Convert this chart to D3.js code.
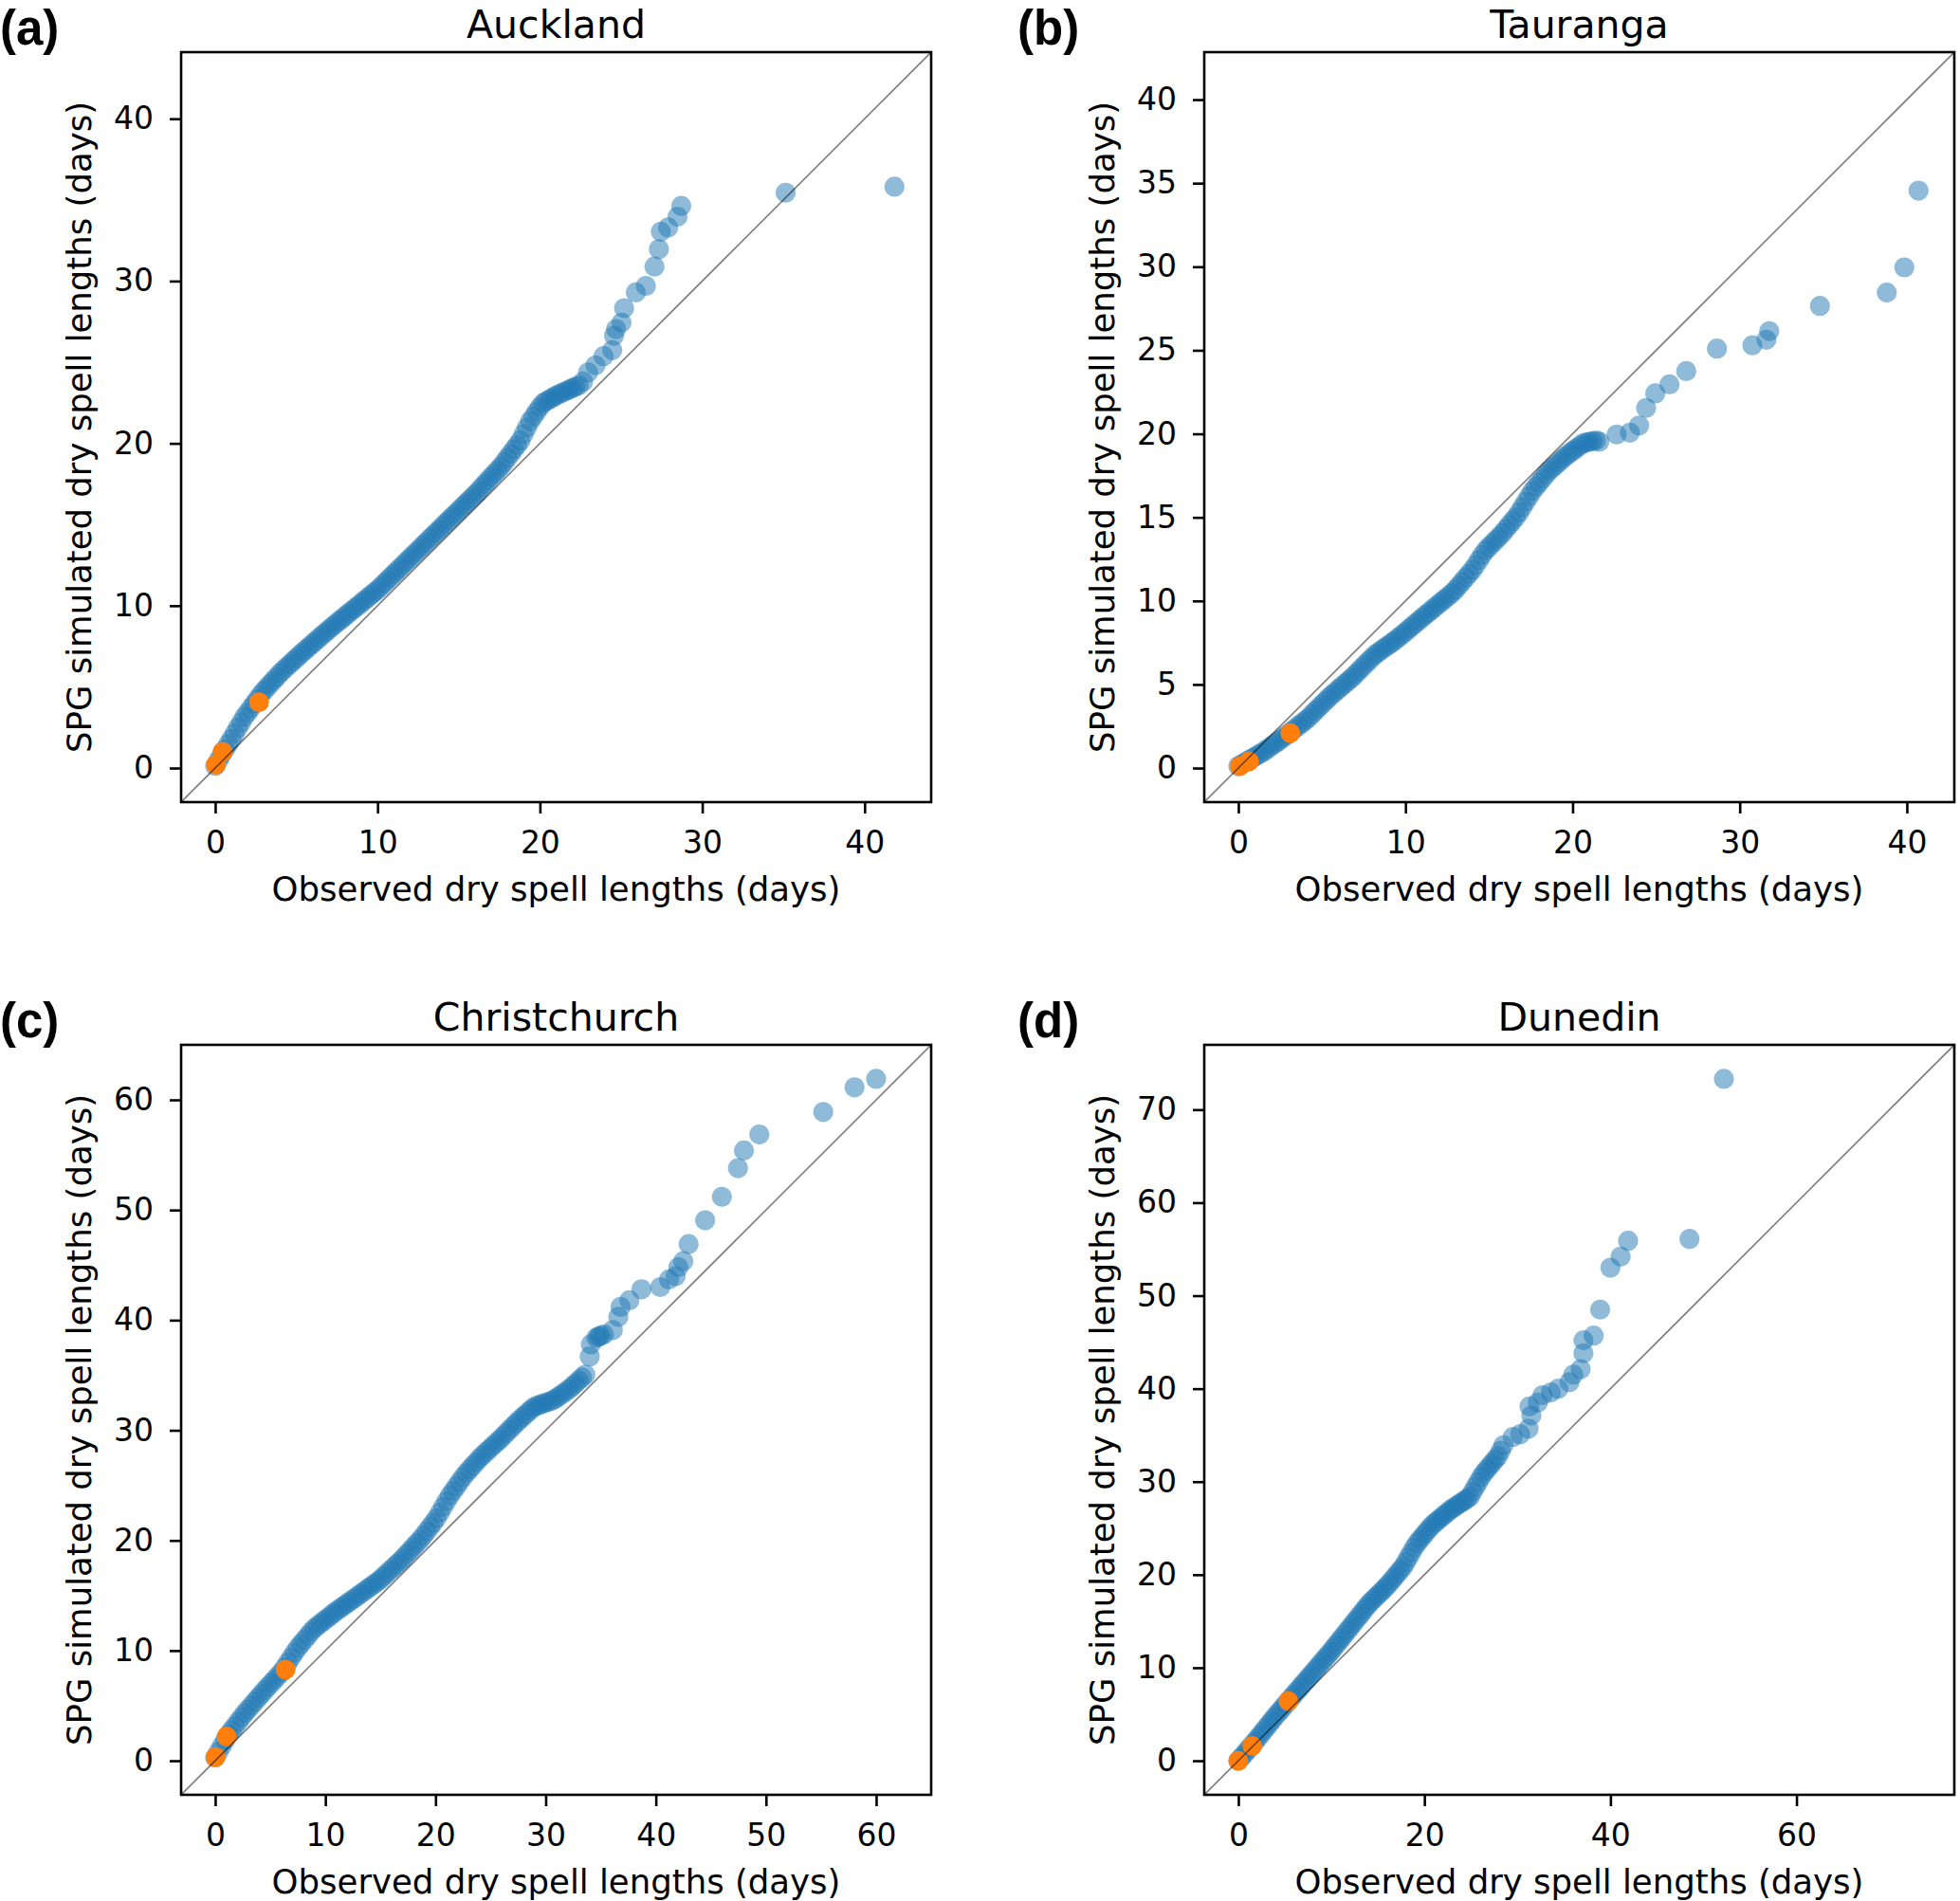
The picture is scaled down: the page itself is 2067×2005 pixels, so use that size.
<!DOCTYPE html>
<html>
<head>
<meta charset="utf-8">
<script src="https://cdn.jsdelivr.net/npm/d3@7"></script>
<style>
  body { margin: 0; background: #fff; }
  svg { display: block; }
</style>
</head>
<body>
<div id="chart"></div>
<script>
// panel descriptions
const panelTitles = ['Auckland', 'Tauranga', 'Christchurch', 'Dunedin'];
const panelLetters = ['(a)', '(b)', '(c)', '(d)'];
const axisMax = [42, 40.8, 61.9, 73.3];   // largest value in each panel, limits are 5% beyond it

const xTicks = [
    [0, 10, 20, 30, 40],
    [0, 10, 20, 30, 40],
    [0, 10, 20, 30, 40, 50, 60],
    [0, 20, 40, 60]
];
const yTicks = [
    [0, 10, 20, 30, 40],
    [0, 5, 10, 15, 20, 25, 30, 35, 40],
    [0, 10, 20, 30, 40, 50, 60],
    [0, 10, 20, 30, 40, 50, 60, 70]
];

// [observed, simulated] quantile pairs
const aucklandQQ = [
    [0.0,0.14],[0.2,0.47],[0.4,0.80],[0.6,1.14],[0.8,1.47],[1.0,1.80],[1.2,2.14],[1.4,2.48],[1.6,2.81],[1.8,3.15],
    [2.0,3.42],[2.2,3.70],[2.4,3.97],[2.6,4.24],[2.8,4.51],[3.0,4.75],[3.2,4.97],[3.4,5.19],[3.6,5.40],[3.8,5.62],
    [4.0,5.84],[4.2,6.03],[4.4,6.22],[4.6,6.40],[4.8,6.59],[5.0,6.77],[5.2,6.96],[5.4,7.14],[5.6,7.31],[5.8,7.49],
    [6.0,7.66],[6.2,7.84],[6.4,8.01],[6.6,8.19],[6.8,8.36],[7.0,8.53],[7.2,8.70],[7.4,8.86],[7.6,9.03],[7.8,9.19],
    [8.0,9.35],[8.2,9.52],[8.4,9.68],[8.6,9.84],[8.8,10.0],[9.0,10.17],[9.2,10.33],[9.4,10.49],[9.6,10.66],[9.8,10.82],
    [10.0,10.98],[10.2,11.17],[10.4,11.37],[10.6,11.56],[10.8,11.76],[11.0,11.95],[11.2,12.15],[11.4,12.34],[11.6,12.54],[11.8,12.74],
    [12.0,12.93],[12.2,13.13],[12.4,13.32],[12.6,13.52],[12.8,13.72],[13.0,13.91],[13.2,14.11],[13.4,14.30],[13.6,14.50],[13.8,14.69],
    [14.0,14.89],[14.2,15.09],[14.4,15.28],[14.6,15.48],[14.8,15.67],[15.0,15.87],[15.2,16.07],[15.4,16.26],[15.6,16.46],[15.8,16.65],
    [16.0,16.85],[16.2,17.04],[16.4,17.28],[16.6,17.50],[16.8,17.71],[17.0,17.93],[17.2,18.14],[17.4,18.35],[17.6,18.57],[17.8,18.83],
    [18.0,19.10],[18.2,19.36],[18.4,19.63],[18.6,19.89],[18.8,20.17],[19.0,20.57],[19.2,20.97],[19.4,21.36],[19.6,21.65],[19.8,21.95],
    [20.0,22.24],[20.2,22.48],[20.4,22.60],[20.6,22.71],[20.8,22.83],[21.0,22.94],[21.2,23.04],[21.4,23.13],[21.6,23.22],[21.8,23.31],
    [22.0,23.40],[22.2,23.49],[22.4,23.57],
    [22.66,23.81],[22.97,24.37],[23.43,24.81],[23.92,25.37],[24.46,25.74],[24.57,26.63],[24.69,27.04],[25.03,27.44],
    [25.19,28.33],[25.91,29.3],[26.53,29.7],[27.06,30.89],[27.33,31.96],[27.45,33.04],[27.9,33.3],[28.48,33.96],
    [28.71,34.63],[35.14,35.44],[41.84,35.81]
];
const taurangaQQ = [
    [0.0,0.11],[0.2,0.23],[0.4,0.34],[0.6,0.46],[0.8,0.57],[1.0,0.68],[1.2,0.80],[1.4,0.91],[1.6,1.04],[1.8,1.18],
    [2.0,1.33],[2.2,1.47],[2.4,1.61],[2.6,1.76],[2.8,1.90],[3.0,2.05],[3.2,2.21],[3.4,2.37],[3.6,2.53],[3.8,2.68],
    [4.0,2.84],[4.2,3.01],[4.4,3.21],[4.6,3.41],[4.8,3.60],[5.0,3.80],[5.2,4.00],[5.4,4.20],[5.6,4.38],[5.8,4.55],
    [6.0,4.73],[6.2,4.90],[6.4,5.07],[6.6,5.24],[6.8,5.41],[7.0,5.61],[7.2,5.81],[7.4,6.01],[7.6,6.21],[7.8,6.41],
    [8.0,6.61],[8.2,6.80],[8.4,6.94],[8.6,7.09],[8.8,7.23],[9.0,7.37],[9.2,7.51],[9.4,7.66],[9.6,7.82],[9.8,7.98],
    [10.0,8.15],[10.2,8.32],[10.4,8.48],[10.6,8.65],[10.8,8.82],[11.0,8.99],[11.2,9.16],[11.4,9.32],[11.6,9.49],[11.8,9.66],
    [12.0,9.82],[12.2,9.99],[12.4,10.15],[12.6,10.32],[12.8,10.48],[13.0,10.69],[13.2,10.92],[13.4,11.15],[13.6,11.39],[13.8,11.62],
    [14.0,11.85],[14.2,12.15],[14.4,12.45],[14.6,12.75],[14.8,13.03],[15.0,13.23],[15.2,13.43],[15.4,13.63],[15.6,13.83],[15.8,14.05],
    [16.0,14.29],[16.2,14.53],[16.4,14.77],[16.6,15.01],[16.8,15.30],[17.0,15.62],[17.2,15.94],[17.4,16.26],[17.6,16.58],[17.8,16.83],
    [18.0,17.07],[18.2,17.31],[18.4,17.56],[18.6,17.79],[18.8,17.96],[19.0,18.14],[19.2,18.32],[19.4,18.50],[19.6,18.67],[19.8,18.82],
    [20.0,18.97],[20.2,19.11],[20.4,19.26],[20.6,19.41],[20.8,19.48],[21.0,19.52],[21.2,19.56],[21.4,19.60],
    [21.6,19.53],[22.64,19.96],[23.43,20.07],[23.98,20.5],[24.4,21.55],[24.95,22.42],[25.8,22.96],[26.8,23.75],
    [28.64,25.1],[30.76,25.3],[31.6,25.63],[31.77,26.14],[34.8,27.65],[38.8,28.45],[39.85,29.96],[40.7,34.55]
];
const christchurchQQ = [
    [0.0,0.29],[0.3,0.81],[0.6,1.34],[0.9,1.86],[1.2,2.38],[1.5,2.77],[1.8,3.16],[2.1,3.55],[2.4,3.94],[2.7,4.32],
    [3.0,4.67],[3.3,5.02],[3.6,5.37],[3.9,5.71],[4.2,6.06],[4.5,6.40],[4.8,6.73],[5.1,7.05],[5.4,7.37],[5.7,7.70],
    [6.0,8.03],[6.3,8.46],[6.6,8.91],[6.9,9.36],[7.2,9.81],[7.5,10.25],[7.8,10.61],[8.1,10.97],[8.4,11.33],[8.7,11.70],
    [9.0,12.02],[9.3,12.26],[9.6,12.49],[9.9,12.73],[10.2,12.96],[10.5,13.20],[10.8,13.44],[11.1,13.66],[11.4,13.87],[11.7,14.08],
    [12.0,14.30],[12.3,14.51],[12.6,14.72],[12.9,14.94],[13.2,15.15],[13.5,15.37],[13.8,15.59],[14.1,15.80],[14.4,16.02],[14.7,16.23],
    [15.0,16.46],[15.3,16.74],[15.6,17.02],[15.9,17.30],[16.2,17.57],[16.5,17.85],[16.8,18.13],[17.1,18.43],[17.4,18.76],[17.7,19.08],
    [18.0,19.41],[18.3,19.73],[18.6,20.06],[18.9,20.43],[19.2,20.82],[19.5,21.22],[19.8,21.61],[20.1,22.01],[20.4,22.53],[20.7,23.05],
    [21.0,23.57],[21.3,24.07],[21.6,24.49],[21.9,24.91],[22.2,25.33],[22.5,25.75],[22.8,26.13],[23.1,26.46],[23.4,26.79],[23.7,27.12],
    [24.0,27.46],[24.3,27.75],[24.6,28.03],[24.9,28.30],[25.2,28.58],[25.5,28.86],[25.8,29.13],[26.1,29.43],[26.4,29.73],[26.7,30.03],
    [27.0,30.33],[27.3,30.63],[27.6,30.92],[27.9,31.19],[28.2,31.46],[28.5,31.73],[28.8,32.0],[29.1,32.20],[29.4,32.30],[29.7,32.40],
    [30.0,32.50],[30.3,32.60],[30.6,32.70],[30.9,32.87],[31.2,33.08],[31.5,33.29],[31.8,33.50],[32.1,33.71],[32.4,33.97],[32.7,34.24],
    [33.0,34.52],[33.3,34.79],[33.6,35.06],
    [34.0,36.7],[34.1,37.8],[34.6,38.4],[34.8,38.5],[35.0,38.6],[35.3,38.7],[36.1,39.1],[36.6,40.3],[36.8,41.2],[37.6,41.8],
    [38.7,42.8],[40.4,43.0],[41.2,43.7],[41.8,44.0],[42.05,44.8],[42.5,45.35],[42.98,46.9],[44.48,49.06],[46.0,51.2],
    [47.46,53.8],[48.0,55.4],[49.4,56.85],[55.2,58.9],[58.04,61.14],[60.0,61.9]
];
const dunedinQQ = [
    [0.0,0.0],[0.3,0.33],[0.6,0.67],[0.9,1.02],[1.2,1.37],[1.5,1.72],[1.8,2.07],[2.1,2.44],[2.4,2.81],[2.7,3.19],
    [3.0,3.56],[3.3,3.94],[3.6,4.31],[3.9,4.69],[4.2,5.04],[4.5,5.39],[4.8,5.74],[5.1,6.09],[5.4,6.44],[5.7,6.79],
    [6.0,7.14],[6.3,7.49],[6.6,7.84],[6.9,8.18],[7.2,8.53],[7.5,8.88],[7.8,9.23],[8.1,9.58],[8.4,9.93],[8.7,10.28],
    [9.0,10.63],[9.3,10.98],[9.6,11.33],[9.9,11.68],[10.2,12.05],[10.5,12.43],[10.8,12.81],[11.1,13.18],[11.4,13.56],[11.7,13.94],
    [12.0,14.31],[12.3,14.69],[12.6,15.06],[12.9,15.44],[13.2,15.81],[13.5,16.19],[13.8,16.56],[14.1,16.92],[14.4,17.22],[14.7,17.52],
    [15.0,17.82],[15.3,18.11],[15.6,18.41],[15.9,18.71],[16.2,19.04],[16.5,19.40],[16.8,19.76],[17.1,20.12],[17.4,20.48],[17.7,20.84],
    [18.0,21.34],[18.3,21.86],[18.6,22.38],[18.9,22.91],[19.2,23.38],[19.5,23.74],[19.8,24.10],[20.1,24.46],[20.4,24.82],[20.7,25.18],
    [21.0,25.47],[21.3,25.72],[21.6,25.97],[21.9,26.22],[22.2,26.47],[22.5,26.72],[22.8,26.97],[23.1,27.17],[23.4,27.37],[23.7,27.57],
    [24.0,27.77],[24.3,27.97],[24.6,28.17],[24.9,28.40],[25.2,28.93],[25.5,29.46],[25.8,29.98],[26.1,30.51],[26.4,30.93],[26.7,31.29],
    [27.0,31.65],[27.3,32.01],[27.6,32.37],[27.9,32.73],[28.2,33.32],[28.5,33.92],
    [29.5,34.8],[30.3,35.1],[31.2,35.7],[31.5,37.1],[31.3,38.1],[32.2,38.5],[32.7,39.3],[33.6,39.6],[34.4,40.0],[35.6,40.7],
    [36.0,41.5],[36.8,42.1],[37.1,43.8],[37.1,45.2],[38.2,45.7],[38.9,48.5],[40.0,53.0],[41.1,54.2],[41.9,55.9],
    [48.5,56.1],[52.2,73.3]
];

// highlighted quantiles (orange)
const aucklandMarked = [[0.05,0.2],[0.45,1.0],[2.7,4.05]];
const taurangaMarked = [[0.08,0.11],[0.64,0.4],[3.11,2.1]];
const christchurchMarked = [[0.03,0.34],[1.03,2.2],[6.39,8.28]];
const dunedinMarked = [[0.0,0.0],[1.49,1.59],[5.39,6.4]];

const allQQ = [aucklandQQ, taurangaQQ, christchurchQQ, dunedinQQ];
const allMarked = [aucklandMarked, taurangaMarked, christchurchMarked, dunedinMarked];

// layout
const width = 2067, height = 2005;
const boxSize = 791;
const boxLeft = [191, 1270, 191, 1270];
const boxTop = [55, 55, 1102, 1102];
const letterX = [0, 1073, 0, 1073];

const svg = d3.select('#chart').append('svg')
    .attr('width', width)
    .attr('height', height);

svg.append('rect')
    .attr('width', width)
    .attr('height', height)
    .attr('fill', '#fff');

panelTitles.forEach((title, i) => {
    const lo = -0.05 * axisMax[i], hi = 1.05 * axisMax[i];

    const x = d3.scaleLinear().domain([lo, hi]).range([0, boxSize]);
    const y = d3.scaleLinear().domain([lo, hi]).range([boxSize, 0]);

    const g = svg.append('g')
        .attr('transform', `translate(${boxLeft[i]},${boxTop[i]})`);

    g.append('clipPath').attr('id', 'clip' + i)
        .append('rect').attr('width', boxSize).attr('height', boxSize);

    const plot = g.append('g').attr('clip-path', `url(#clip${i})`);

    plot.selectAll('circle.qq')
        .data(allQQ[i])
        .enter().append('circle')
        .attr('class', 'qq')
        .attr('cx', d => x(d[0]))
        .attr('cy', d => y(d[1]))
        .attr('r', 10.6)
        .attr('fill', '#1f77b4')
        .attr('fill-opacity', 0.5);

    plot.selectAll('circle.marked')
        .data(allMarked[i])
        .enter().append('circle')
        .attr('class', 'marked')
        .attr('cx', d => x(d[0]))
        .attr('cy', d => y(d[1]))
        .attr('r', 10.4)
        .attr('fill', '#ff7f0e');

    // 1:1 line
    plot.append('line')
        .attr('x1', x(lo)).attr('y1', y(lo))
        .attr('x2', x(hi)).attr('y2', y(hi))
        .attr('stroke', '#000')
        .attr('stroke-opacity', 0.5)
        .attr('stroke-width', 1.6);

    // axes
    const xAxis = g.append('g')
        .attr('transform', `translate(0,${boxSize})`)
        .call(d3.axisBottom(x).tickValues(xTicks[i]).tickSize(12).tickPadding(19));
    const yAxis = g.append('g')
        .call(d3.axisLeft(y).tickValues(yTicks[i]).tickSize(12).tickPadding(17));

    [xAxis, yAxis].forEach(ax => {
        ax.select('.domain').remove();
        ax.selectAll('.tick line').attr('stroke', '#000').attr('stroke-width', 2.6);
        ax.selectAll('.tick text')
            .attr('fill', '#000')
            .attr('font-family', '"DejaVu Sans", sans-serif')
            .attr('font-size', 33);
    });

    g.append('rect')
        .attr('width', boxSize)
        .attr('height', boxSize)
        .attr('fill', 'none')
        .attr('stroke', '#000')
        .attr('stroke-width', 2.6);

    g.append('text')
        .attr('x', boxSize / 2)
        .attr('y', boxSize + 104)
        .attr('text-anchor', 'middle')
        .attr('font-family', '"DejaVu Sans", sans-serif')
        .attr('font-size', 35.5)
        .text('Observed dry spell lengths (days)');

    g.append('text')
        .attr('transform', `translate(-95,${boxSize / 2}) rotate(-90)`)
        .attr('text-anchor', 'middle')
        .attr('font-family', '"DejaVu Sans", sans-serif')
        .attr('font-size', 35.5)
        .text('SPG simulated dry spell lengths (days)');

    g.append('text')
        .attr('x', boxSize / 2)
        .attr('y', -15)
        .attr('text-anchor', 'middle')
        .attr('font-family', '"DejaVu Sans", sans-serif')
        .attr('font-size', 41)
        .text(title);

    svg.append('text')
        .attr('x', letterX[i])
        .attr('y', boxTop[i] - 8)
        .attr('font-family', '"Liberation Sans", Arial, sans-serif')
        .attr('font-weight', 'bold')
        .attr('font-size', 51)
        .text(panelLetters[i]);
});
</script>
</body>
</html>
